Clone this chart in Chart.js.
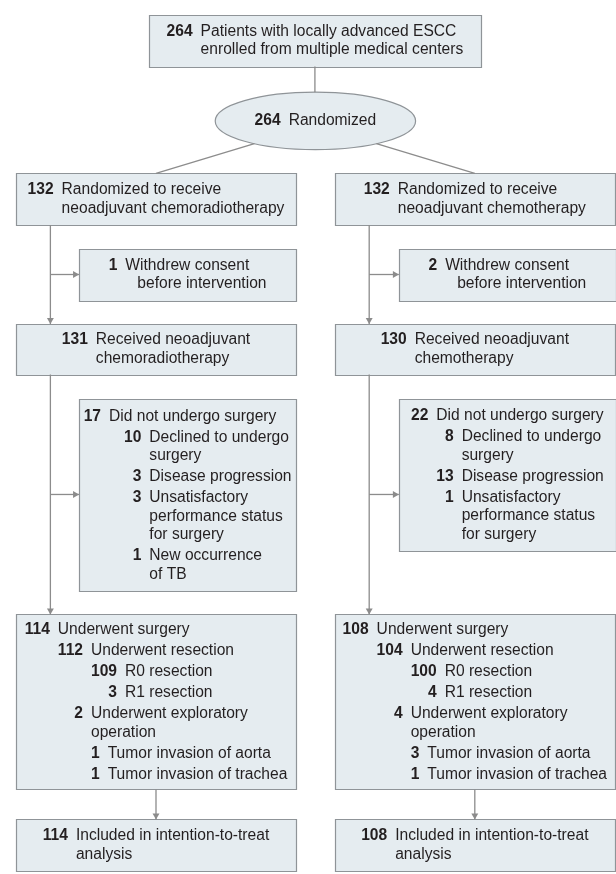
<!DOCTYPE html>
<html>
<head>
<meta charset="utf-8">
<script src="https://cdn.jsdelivr.net/npm/chart.js@4.4.0/dist/chart.umd.min.js"></script>
<style>
  html, body { margin: 0; padding: 0; background: #fff; }
  #wrap { width: 616px; height: 874px; }
</style>
</head>
<body>
<div id="wrap"><canvas id="flow" width="616" height="874"></canvas></div>
<script>
// counts and labels of the trial flow
const enrolledN = 264;
const enrolledText = ['Patients with locally advanced ESCC', 'enrolled from multiple medical centers'];
const randomizedN = 264;
const armN = [132, 132];
const armText = [
  ['Randomized to receive', 'neoadjuvant chemoradiotherapy'],
  ['Randomized to receive', 'neoadjuvant chemotherapy']
];
const withdrewN = [1, 2];
const withdrewText = ['Withdrew consent', 'before intervention'];
const receivedN = [131, 130];
const receivedText = [
  ['Received neoadjuvant', 'chemoradiotherapy'],
  ['Received neoadjuvant', 'chemotherapy']
];
// [level, n, text lines...]
const noSurgery = [
  [
    [0, 17, 'Did not undergo surgery'],
    [1, 10, 'Declined to undergo', 'surgery'],
    [1, 3, 'Disease progression'],
    [1, 3, 'Unsatisfactory', 'performance status', 'for surgery'],
    [1, 1, 'New occurrence', 'of TB']
  ],
  [
    [0, 22, 'Did not undergo surgery'],
    [1, 8, 'Declined to undergo', 'surgery'],
    [1, 13, 'Disease progression'],
    [1, 1, 'Unsatisfactory', 'performance status', 'for surgery']
  ]
];
const surgery = [
  [
    [0, 114, 'Underwent surgery'],
    [1, 112, 'Underwent resection'],
    [2, 109, 'R0 resection'],
    [2, 3, 'R1 resection'],
    [1, 2, 'Underwent exploratory', 'operation'],
    [2, 1, 'Tumor invasion of aorta'],
    [2, 1, 'Tumor invasion of trachea']
  ],
  [
    [0, 108, 'Underwent surgery'],
    [1, 104, 'Underwent resection'],
    [2, 100, 'R0 resection'],
    [2, 4, 'R1 resection'],
    [1, 4, 'Underwent exploratory', 'operation'],
    [2, 3, 'Tumor invasion of aorta'],
    [2, 1, 'Tumor invasion of trachea']
  ]
];
const ittN = [114, 108];
const ittText = ['Included in intention-to-treat', 'analysis'];

// look
const FONT = '"Liberation Sans", Arial, sans-serif';
const fontSize = 15.6;
const boxFill = '#e5ecf0';
const boxLine = '#8f9498';
const linkColor = '#8c8c8c';
const ink = '#231f20';
const numGap = 8, stepEntry = 21, stepWrap = 18.5;

// layout of the boxes (page pixels, mapped through the scales)
const colX = [12, 335], colW = 284;
const sideX = [76, 400], sideW = 220;
const trunkOff = 35;
const branchY = 495;

const boxes = [];
const enrolBox = { x: 147, y: 11, w: 336, h: 52, entries: [[0, enrolledN, ...enrolledText]] };
const oval = { shape: 'ellipse', x: 214, y: 89, w: 203, h: 58, entries: [[0, randomizedN, 'Randomized']] };
boxes.push(enrolBox, oval);
const arms = [0, 1].map(i => {
  const a = {
    arm: { x: colX[i], y: 171, w: colW, h: 52, entries: [[0, armN[i], ...armText[i]]] },
    withdrew: { x: sideX[i], y: 247, w: sideW, h: 52, entries: [[0, withdrewN[i], ...withdrewText]], wrapShift: 12 },
    received: { x: colX[i], y: 323, w: colW, h: 51, entries: [[0, receivedN[i], ...receivedText[i]]] },
    noSurg: { x: sideX[i], y: 399, w: sideW, h: i === 0 ? 194 : 153, entries: noSurgery[i], subIndent: i === 0 ? 15 : 0 },
    surg: { x: colX[i], y: 616, w: colW, h: 177, entries: surgery[i] },
    itt: { x: colX[i], y: 823, w: colW, h: 52, entries: [[0, ittN[i], ...ittText]] }
  };
  Object.values(a).forEach(b => boxes.push(b));
  return a;
});

// connectors and arrowheads, derived from the box geometry
const segs = [];
const heads = [];
const headR = 4;
function down(x, y1, y2, arrow) {
  segs.push([{ x, y: y1 }, { x, y: y2 }]);
  if (arrow) heads.push({ x, y: y2 - headR, rot: 180 });
}
function right(y, x1, x2) {
  segs.push([{ x: x1, y }, { x: x2, y }]);
  heads.push({ x: x2 - headR, y, rot: 90 });
}
const ocx = oval.x + oval.w / 2, ocy = oval.y + oval.h / 2;
down(enrolBox.x + enrolBox.w / 2, enrolBox.y + enrolBox.h, oval.y, false);
arms.forEach((a, i) => {
  const tx = a.arm.x + trunkOff;
  const cx = a.arm.x + a.arm.w / 2;
  const dy = 23;
  const dx = (oval.w / 2) * Math.sqrt(1 - Math.pow(dy / (oval.h / 2), 2));
  segs.push([{ x: ocx + (i === 0 ? -dx : dx), y: ocy + dy }, { x: cx, y: a.arm.y }]);
  down(tx, a.arm.y + a.arm.h, a.received.y, true);
  right(a.withdrew.y + a.withdrew.h / 2, tx, a.withdrew.x);
  down(tx, a.received.y + a.received.h, a.surg.y, true);
  right(branchY, tx, a.noSurg.x);
  down(cx, a.surg.y + a.surg.h, a.itt.y, true);
});

// text layout inside one box
function layoutRows(ctx, b) {
  const e = b.entries;
  const rows = [];
  const textXAt = [];
  let y = 0;
  e.forEach((ent, i) => {
    const lvl = ent[0];
    // siblings in the same group share one right-aligned number column
    let s = i, t = i;
    while (s > 0 && e[s - 1][0] >= lvl) s--;
    while (t < e.length - 1 && e[t + 1][0] >= lvl) t++;
    ctx.font = 'bold ' + fontSize + 'px ' + FONT;
    let maxW = 0;
    for (let k = s; k <= t; k++) if (e[k][0] === lvl) maxW = Math.max(maxW, ctx.measureText(String(e[k][1])).width);
    const numLeft = lvl === 0 ? 0 : textXAt[lvl - 1] + (lvl === 1 ? (b.subIndent || 0) : 0);
    const numRight = numLeft + maxW;
    const tx = numRight + numGap;
    textXAt[lvl] = tx;
    ent.slice(2).forEach((line, j) => {
      if (rows.length) y += j === 0 ? stepEntry : stepWrap;
      rows.push({ y, num: j === 0 ? ent[1] : null, numRight, x: tx + (j > 0 ? (b.wrapShift || 0) : 0), text: line });
    });
  });
  ctx.font = fontSize + 'px ' + FONT;
  let width = 0;
  rows.forEach(r => { width = Math.max(width, r.x + ctx.measureText(r.text).width); });
  return { rows, width, height: y };
}

const boxPlugin = {
  id: 'boxes',
  beforeDatasetsDraw(chart) {
    const ctx = chart.ctx;
    const sx = v => chart.scales.x.getPixelForValue(v);
    const sy = v => chart.scales.y.getPixelForValue(v);
    ctx.save();
    boxes.forEach(b => {
      const x0 = sx(b.x), x1 = sx(b.x + b.w), y0 = sy(b.y), y1 = sy(b.y + b.h);
      ctx.fillStyle = boxFill;
      ctx.strokeStyle = boxLine;
      ctx.lineWidth = 1.2;
      ctx.beginPath();
      if (b.shape === 'ellipse') {
        ctx.ellipse((x0 + x1) / 2, (y0 + y1) / 2, (x1 - x0) / 2, (y1 - y0) / 2, 0, 0, Math.PI * 2);
      } else {
        ctx.rect(Math.round(x0) + 0.5, Math.round(y0) + 0.5, Math.round(x1 - x0), Math.round(y1 - y0));
      }
      ctx.fill();
      ctx.stroke();

      const lay = layoutRows(ctx, b);
      const left = (x0 + x1) / 2 - lay.width / 2;
      const topY = (y0 + y1) / 2 - lay.height / 2;
      ctx.fillStyle = ink;
      ctx.textBaseline = 'middle';
      lay.rows.forEach(r => {
        if (r.num !== null) {
          ctx.font = 'bold ' + fontSize + 'px ' + FONT;
          ctx.textAlign = 'right';
          ctx.fillText(String(r.num), left + r.numRight, topY + r.y);
        }
        ctx.font = fontSize + 'px ' + FONT;
        ctx.textAlign = 'left';
        ctx.fillText(r.text, left + r.x, topY + r.y);
      });
    });
    ctx.restore();
  }
};

const datasets = segs.map(s => ({
  data: s,
  showLine: true,
  borderColor: linkColor,
  borderWidth: 1.3,
  pointRadius: 0,
  fill: false
}));
datasets.push({
  data: heads.map(h => ({ x: h.x, y: h.y })),
  showLine: false,
  pointStyle: 'triangle',
  pointRadius: headR,
  pointRotation: heads.map(h => h.rot),
  pointBackgroundColor: linkColor,
  pointBorderColor: linkColor,
  pointBorderWidth: 0
});

new Chart(document.getElementById('flow'), {
  type: 'scatter',
  data: { datasets },
  options: {
    responsive: false,
    devicePixelRatio: 1,
    animation: false,
    events: [],
    layout: { padding: 0 },
    plugins: { legend: { display: false }, tooltip: { enabled: false } },
    scales: {
      x: { type: 'linear', min: 0, max: 616, display: false },
      y: { type: 'linear', min: 0, max: 874, reverse: true, display: false }
    }
  },
  plugins: [boxPlugin]
});
</script>
</body>
</html>
